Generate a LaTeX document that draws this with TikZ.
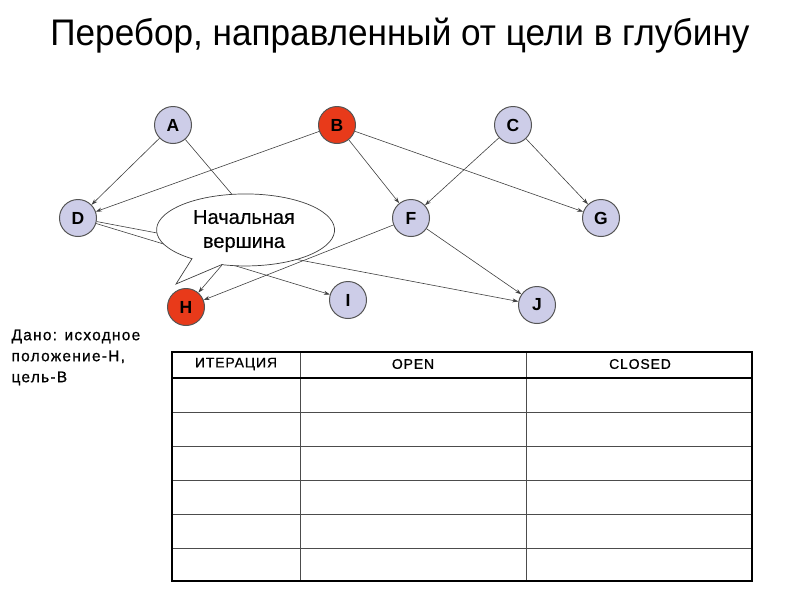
\documentclass[tikz,border=0pt]{standalone}
\usepackage{fontspec}
\setmainfont{Liberation Sans}
\newfontfamily\titlefont[FakeStretch=0.95]{Liberation Sans}
\newfontfamily\widefont[LetterSpace=8,FakeBold=0.7]{Liberation Sans}
\newfontfamily\hdrfont[LetterSpace=6,FakeBold=0.7]{Liberation Sans}
\newfontfamily\callfont[FakeBold=0.4]{Liberation Sans}
\usetikzlibrary{arrows.meta,shapes.geometric}
\definecolor{lav}{HTML}{CDCDE8}
\definecolor{hot}{HTML}{E83A1A}
\definecolor{rim}{HTML}{555555}
\tikzset{
  vert/.style={circle,draw=rim,line width=1pt,fill=lav,minimum size=37pt,inner sep=0pt,font=\fontsize{17.5}{19}\selectfont\bfseries},
  goal/.style={vert,fill=hot},
  edge/.style={draw=black!75,line width=0.6pt,-{Stealth[length=6pt,width=4pt]}},
  plain/.style={draw=black!75,line width=0.6pt},
  grid/.style={draw=black!70,line width=0.8pt},
  frame/.style={draw=black,line width=2pt},
  hdr/.style={font=\hdrfont\fontsize{14}{16}\selectfont},
}
\begin{document}
\begin{tikzpicture}[x=1pt,y=-1pt]
\useasboundingbox (0,0) rectangle (800,600);
\node[font=\titlefont\fontsize{37}{40}\selectfont] (title) at (400,36) {Перебор, направленный от цели в глубину};

\node[vert] (A) at (173,125) {A};
\node[goal] (B) at (337,125) {B};
\node[vert] (C) at (513,125) {C};
\node[vert] (D) at (78,218) {D};
\node[vert] (F) at (411,218) {F};
\node[vert] (G) at (601,218) {G};
\node[goal] (H) at (186,307) {H};
\node[vert] (I) at (348,300) {I};
\node[vert] (J) at (537,305) {J};

\coordinate (ahid) at (275,245);
\coordinate (hhid) at (222,265);

\path[edge] (A) -- (D);
\path[plain] (A) -- (ahid);
\path[edge] (B) -- (D);
\path[edge] (B) -- (F);
\path[edge] (B) -- (G);
\path[edge] (C) -- (F);
\path[edge] (C) -- (G);
\path[edge] (D) -- (I);
\path[edge] (D) -- (J);
\path[edge] (F) -- (H);
\path[edge] (F) -- (J);

% callout
\draw[fill=white,draw=black!75,line width=0.7pt]
  (222,264.5) -- (176,284) -- (192,258.7)
  arc[start angle=127,end angle=464,x radius=89,y radius=36] -- cycle;
\node[font=\callfont\fontsize{20}{24}\selectfont,align=center] (call) at (244,231) {Начальная\\вершина};

\path[edge] (hhid) -- (H);

\node[anchor=north west,align=left,font=\widefont\fontsize{15.5}{21}\selectfont] (given) at (8,326) {Дано: исходное\\положение-H,\\цель-B};

% table
\foreach \y in {412,446,480,514,548} \draw[grid] (172,\y) -- (752,\y);
\draw[grid] (300,352) -- (300,581);
\draw[grid] (526,352) -- (526,581);
\draw[frame] (172,378) -- (752,378);
\draw[frame] (172,352) rectangle (752,581);
\node[hdr] (h1) at (236,364) {ИТЕРАЦИЯ};
\node[hdr] (h2) at (413,364) {OPEN};
\node[hdr] (h3) at (640,364) {CLOSED};
\end{tikzpicture}
\end{document}
